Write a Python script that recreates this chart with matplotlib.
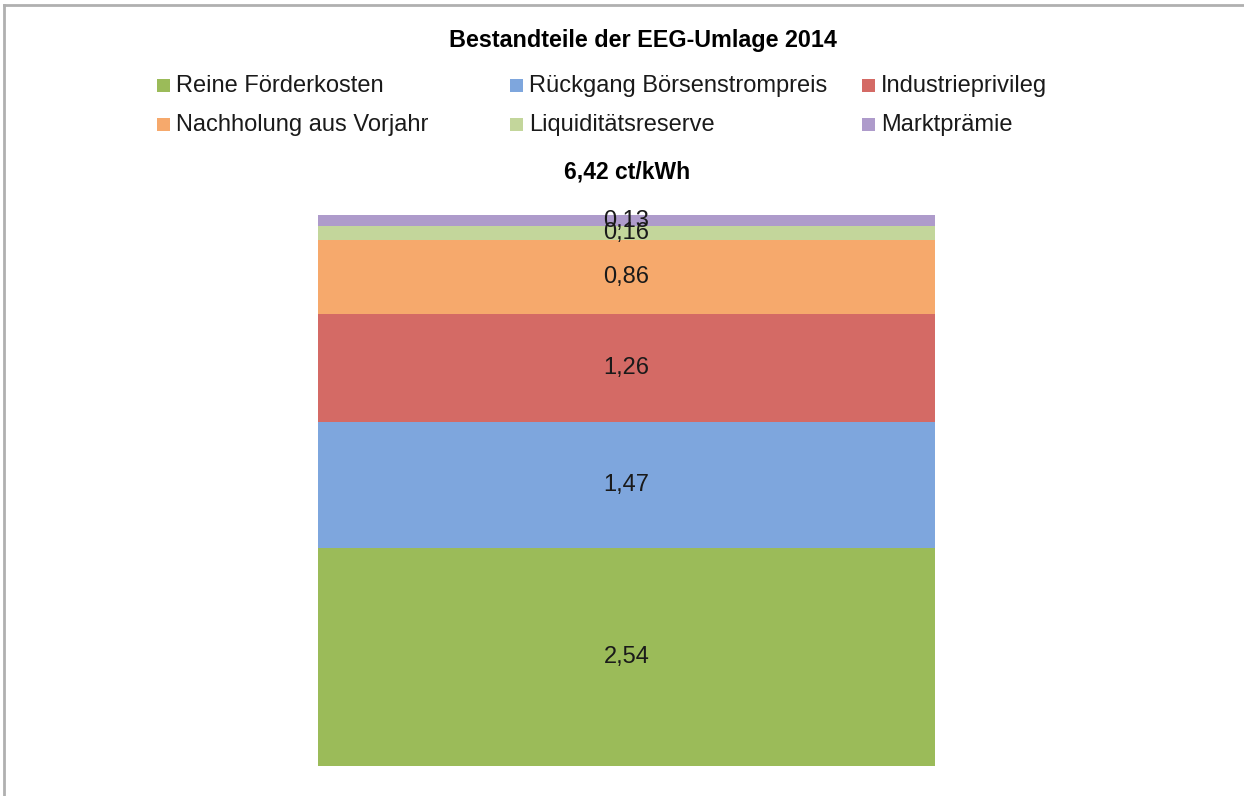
import matplotlib
matplotlib.use("Agg")
import matplotlib.pyplot as plt
from matplotlib.lines import Line2D

plt.rcParams['font.family'] = ['Liberation Sans', 'DejaVu Sans']

categories = ["Reine Förderkosten", "Rückgang Börsenstrompreis", "Industrieprivileg",
              "Nachholung aus Vorjahr", "Liquiditätsreserve", "Marktprämie"]
values = [2.54, 1.47, 1.26, 0.86, 0.16, 0.13]
labels = ["2,54", "1,47", "1,26", "0,86", "0,16", "0,13"]
colors = ["#9BBB59", "#7EA6DD", "#D46A65", "#F6A96C", "#C3D69B", "#AE9BCB"]
total_label = "6,42 ct/kWh"
title = "Bestandteile der EEG-Umlage 2014"

W, H = 1244, 796
fig = plt.figure(figsize=(W / 100, H / 100), dpi=100)

ax = fig.add_axes([318 / W, 1 - 766 / H, (935 - 318) / W, (766 - 215) / H])
bottom = 0.0
for v, lab, c, cat in zip(values, labels, colors, categories):
    ax.bar(0, v, width=1.0, bottom=bottom, color=c, label=cat, linewidth=0)
    ax.text(0, bottom + v / 2, lab, ha="center", va="center", fontsize=17, color="#1a1a1a")
    bottom += v
ax.set_xlim(-0.5, 0.5)
ax.set_ylim(0, sum(values))
ax.axis("off")

# Title and total
fig.text(643 / W, 1 - 41 / H, title, ha="center", va="center", fontsize=16.8, fontweight="bold")
fig.text(627 / W, 1 - 172 / H, total_label, ha="center", va="center", fontsize=16.5, fontweight="bold")

# Legend (row-major order: 3 columns)
col_x = [157, 510, 862]
row_y = [86, 125]
for i, (cat, c) in enumerate(zip(categories, colors)):
    r, k = divmod(i, 3)
    x = col_x[k]
    y = row_y[r]
    fig.patches.append(plt.Rectangle((x / W, 1 - (y + 6) / H), 13 / W, 13 / H,
                                     transform=fig.transFigure, facecolor=c, edgecolor="none"))
    fig.text((x + 19) / W, 1 - y / H, cat, ha="left", va="center", fontsize=17, color="#1a1a1a")

# Frame lines (top and left)
fig.add_artist(Line2D([4 / W, 1], [1 - 5 / H, 1 - 5 / H], transform=fig.transFigure,
                      color="#b0b0b0", linewidth=2))
fig.add_artist(Line2D([4 / W, 4 / W], [0, 1 - 5 / H], transform=fig.transFigure,
                      color="#b0b0b0", linewidth=2))

fig.savefig("out.png", dpi=100, facecolor="white")
